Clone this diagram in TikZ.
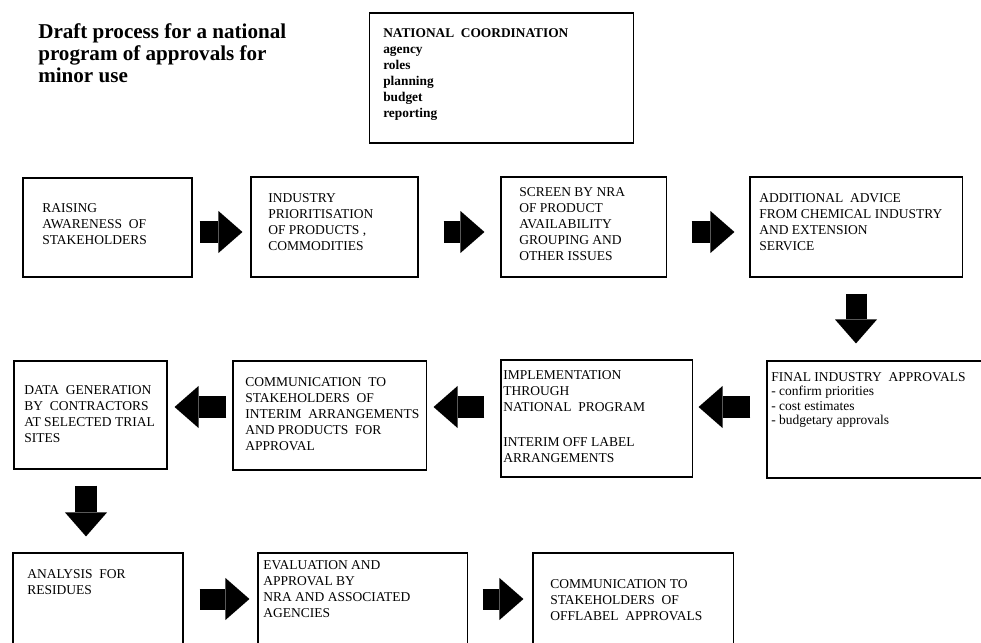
\documentclass[tikz,border=0pt]{standalone}
\usepackage{fontspec}
\setmainfont{Liberation Serif}
\usetikzlibrary{arrows.meta}

\begin{document}
\begin{tikzpicture}[x=0.025cm, y=-0.025cm,
    box/.style={draw, line width=0.75pt, inner sep=0pt},
    txt/.style={anchor=north west, inner sep=0pt, align=left, font=\fontsize{9.6}{11.5}\selectfont},
    bigarrow/.style={line width=0.525cm, -{Triangle[length=0.6cm, width=1.05cm, line width=0pt]}}]
    \useasboundingbox (0,0) rectangle (981,643);
    \clip (0,0) rectangle (981,643);

    % 見出し
    \node[txt, font=\fontsize{15}{15.6}\selectfont\bfseries] (title) at (38,23)
        {Draft process for a national\\program of approvals for\\minor use};

    % 枠
    \node[box, minimum width=6.575cm, minimum height=3.25cm] (natc) at (501.5,78) {};
    \node[box, minimum width=4.225cm, minimum height=2.475cm] (raise) at (107.5,227.5) {};
    \node[box, minimum width=4.175cm, minimum height=2.5cm] (prio) at (334.5,227) {};
    \node[box, minimum width=4.125cm, minimum height=2.5cm] (screen) at (583.5,227) {};
    \node[box, minimum width=5.3cm, minimum height=2.5cm] (advice) at (856,227) {};
    \node[box, minimum width=5.825cm, minimum height=2.925cm] (final) at (883.5,419.5) {};
    \node[box, minimum width=4.775cm, minimum height=2.925cm] (impl) at (596.5,418.5) {};
    \node[box, minimum width=4.825cm, minimum height=2.725cm] (comint) at (329.5,415.5) {};
    \node[box, minimum width=3.825cm, minimum height=2.7cm] (data) at (90.5,415) {};
    \node[box, minimum width=4.25cm, minimum height=3.175cm] (anal) at (98,616.5) {};
    \node[box, minimum width=5.225cm, minimum height=3.175cm] (eval) at (362.5,616.5) {};
    \node[box, minimum width=5cm, minimum height=3.175cm] (comoff) at (633,616.5) {};

    % 枠の文字
    \node[txt, font=\fontsize{9.5}{11.4}\selectfont\bfseries] (natct) at (383,28)
        {NATIONAL\ \ COORDINATION\\agency\\roles\\planning\\budget\\reporting};
    \node[txt] (raiset) at (42,203) {RAISING\\AWARENESS\ \ OF\\STAKEHOLDERS};
    \node[txt] (priot) at (268,193) {INDUSTRY\\PRIORITISATION\\OF PRODUCTS ,\\COMMODITIES};
    \node[txt] (screent) at (519,187) {SCREEN BY NRA\\OF PRODUCT\\AVAILABILITY\\GROUPING AND\\OTHER ISSUES};
    \node[txt] (advicet) at (759,193) {ADDITIONAL\ \ ADVICE\\FROM CHEMICAL INDUSTRY\\AND EXTENSION\\SERVICE};
    \node[txt, font=\fontsize{9.6}{10.3}\selectfont] (finalt) at (771,372) {FINAL INDUSTRY\ \ APPROVALS\\- confirm priorities\\- cost estimates\\- budgetary approvals};
    \node[txt] (implt) at (503,370) {IMPLEMENTATION\\THROUGH\\NATIONAL\ \ PROGRAM\\[13pt]INTERIM OFF LABEL\\ARRANGEMENTS};
    \node[txt] (comintt) at (245,377) {COMMUNICATION\ \ TO\\STAKEHOLDERS\ \ OF\\INTERIM\ \ ARRANGEMENTS\\AND PRODUCTS\ \ FOR\\APPROVAL};
    \node[txt] (datat) at (24,385) {DATA\ \ GENERATION\\BY\ \ CONTRACTORS\\AT SELECTED TRIAL\\SITES};
    \node[txt] (analt) at (27,569) {ANALYSIS\ \ FOR\\RESIDUES};
    \node[txt] (evalt) at (263,560) {EVALUATION AND\\APPROVAL BY\\NRA AND ASSOCIATED\\AGENCIES};
    \node[txt] (comofft) at (550,579) {COMMUNICATION TO\\STAKEHOLDERS\ \ OF\\OFFLABEL\ \ APPROVALS};

    % 矢印の高さ
    \coordinate (row1) at (0,232);
    \coordinate (row2) at (0,407);
    \coordinate (row3) at (0,599);
    \coordinate (col1) at (86,0);

    % 矢印
    \draw[bigarrow, shorten <=0.175cm, shorten >=0.2cm] (raise.east |- row1) -- (prio.west |- row1);
    \draw[bigarrow, shorten <=0.625cm, shorten >=0.4cm] (prio.east |- row1) -- (screen.west |- row1);
    \draw[bigarrow, shorten <=0.625cm, shorten >=0.375cm] (screen.east |- row1) -- (advice.west |- row1);
    \draw[bigarrow, shorten <=0.4cm, shorten >=0.425cm] (advice.south) -- (advice.south |- final.north);
    \draw[bigarrow, shorten <=0.4cm, shorten >=0.15cm] (final.west |- row2) -- (impl.east |- row2);
    \draw[bigarrow, shorten <=0.4cm, shorten >=0.175cm] (impl.west |- row2) -- (comint.east |- row2);
    \draw[bigarrow, shorten <=0.15cm, shorten >=0.175cm] (comint.west |- row2) -- (data.east |- row2);
    \draw[bigarrow, shorten <=0.4cm, shorten >=0.4cm] (data.south -| col1) -- (anal.north -| col1);
    \draw[bigarrow, shorten <=0.4cm, shorten >=0.2cm] (anal.east |- row3) -- (eval.west |- row3);
    \draw[bigarrow, shorten <=0.375cm, shorten >=0.225cm] (eval.east |- row3) -- (comoff.west |- row3);
\end{tikzpicture}
\end{document}
